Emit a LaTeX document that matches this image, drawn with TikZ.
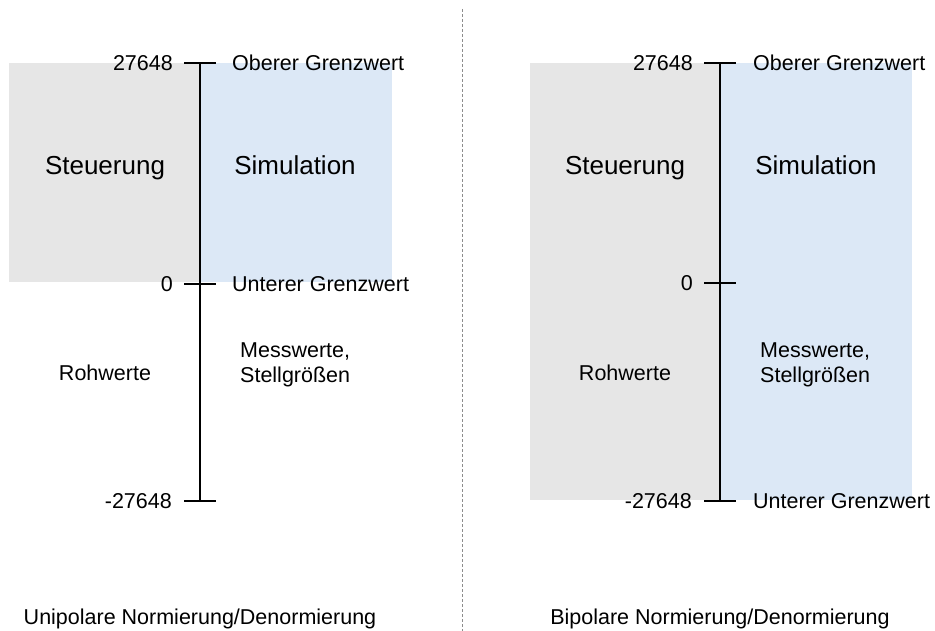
\documentclass[tikz,border=0pt]{standalone}
\usepackage{fontspec}
\setmainfont{Liberation Sans}
\definecolor{ctrlgrey}{RGB}{230,230,230}
\definecolor{simblue}{RGB}{220,232,246}
\definecolor{sepgrey}{RGB}{140,140,140}
\tikzset{
  small/.style={font=\fontsize{21.5}{25}\selectfont, inner sep=0pt, text height=15.4pt, text depth=0pt},
  big/.style={font=\fontsize{26}{30}\selectfont, inner sep=0pt, text height=18.6pt, text depth=0pt},
  axisline/.style={line width=1.6pt, black},
  ticklen/.style={line width=1.6pt, black},
  sepline/.style={sepgrey, line width=1pt, dash pattern=on 3pt off 2pt}
}
\begin{document}
\begin{tikzpicture}[x=1pt,y=-1pt]
\useasboundingbox (0,0) rectangle (935,631);
% ---------- left panel: unipolar ----------
\fill[ctrlgrey] (9,63) rectangle (200,282);
\fill[simblue] (200,63) rectangle (392,282);
\coordinate (Ltop) at (200,63);
\coordinate (Lmid) at (200,284);
\coordinate (Lbot) at (200,501);
\draw[axisline] (Ltop) -- (Lbot);
\foreach \c in {Ltop,Lmid,Lbot}{\draw[ticklen] ([xshift=-16pt]\c) -- ([xshift=16pt]\c);}
\node[small, anchor=east] (Lv1) at (173,63) {27648};
\node[small, anchor=west] (Lo) at (232,63) {Oberer Grenzwert};
\node[small, anchor=east] (Lv0) at (173,284) {0};
\node[small, anchor=west] (Lu) at (232,284) {Unterer Grenzwert};
\node[small, anchor=east] (Lv2) at (172,501) {-27648};
\node[big] (Lst) at (105,165) {Steuerung};
\node[big] (Lsi) at (295,165) {Simulation};
\node[small] (Lroh) at (105,372.5) {Rohwerte};
\node[small, anchor=west, align=left] (Lmess) at (240,374.5) {Messwerte,\\Stellgrößen};
\node[small] (Ltitle) at (200,617) {Unipolare Normierung/Denormierung};
% ---------- separator ----------
\coordinate (Stop) at (462,9);
\coordinate (Sbot) at (462,631);
\draw[sepline] (Stop) -- (Sbot);
% ---------- right panel: bipolar ----------
\fill[ctrlgrey] (530,63) rectangle (720,500);
\fill[simblue] (720,63) rectangle (912,500);
\coordinate (Rtop) at (720,63);
\coordinate (Rmid) at (720,283);
\coordinate (Rbot) at (720,501);
\draw[axisline] (Rtop) -- (Rbot);
\foreach \c in {Rtop,Rmid,Rbot}{\draw[ticklen] ([xshift=-16pt]\c) -- ([xshift=16pt]\c);}
\node[small, anchor=east] (Rv1) at (693,63) {27648};
\node[small, anchor=west] (Ro) at (753,63) {Oberer Grenzwert};
\node[small, anchor=east] (Rv0) at (693,283) {0};
\node[small, anchor=east] (Rv2) at (692,501) {-27648};
\node[small, anchor=west] (Ru) at (753,501) {Unterer Grenzwert};
\node[big] (Rst) at (625,165) {Steuerung};
\node[big] (Rsi) at (816,165) {Simulation};
\node[small] (Rroh) at (625,372.5) {Rohwerte};
\node[small, anchor=west, align=left] (Rmess) at (760,374.5) {Messwerte,\\Stellgrößen};
\node[small] (Rtitle) at (720,617) {Bipolare Normierung/Denormierung};
\end{tikzpicture}
\end{document}
